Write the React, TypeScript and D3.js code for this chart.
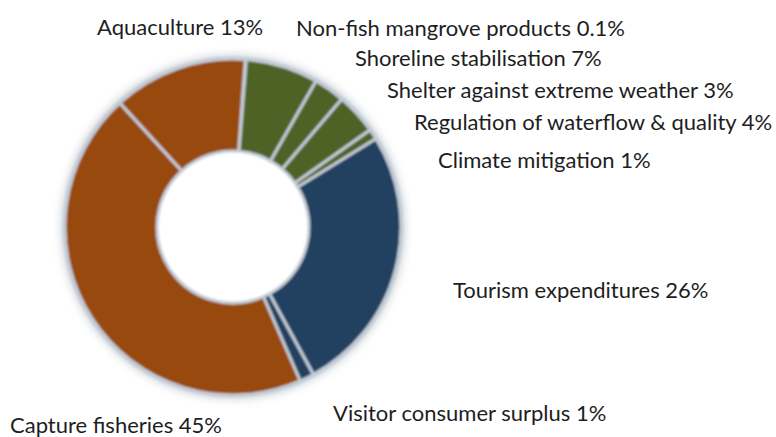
import React from "react";
import * as d3 from "d3";

const categories = [
  "Non-fish mangrove products",
  "Shoreline stabilisation",
  "Shelter against extreme weather",
  "Regulation of waterflow & quality",
  "Climate mitigation",
  "Tourism expenditures",
  "Visitor consumer surplus",
  "Capture fisheries",
  "Aquaculture",
];
const values = [0.1, 7, 3, 4, 1, 26, 1.4, 45, 13];
const valueLabels = ["0.1%", "7%", "3%", "4%", "1%", "26%", "1%", "45%", "13%"];
const colors = ["#4f6228", "#4f6228", "#4f6228", "#4f6228", "#4f6228", "#243f60", "#243f60", "#984807", "#984807"];

// label layout (left x, baseline y)
const labelX = [296, 355, 387, 414, 438, 453, 333, 10, 97];
const labelY = [36, 66, 98, 130, 168, 298, 421, 433, 35];

const W = 776;
const H = 437;
const cx = 233;
const cy = 227;
const outerR = 168;
const innerR = 76;
const startDeg = 4.2;

export default function App() {
  const pie = d3
    .pie<number>()
    .sort(null)
    .value((d) => d)
    .startAngle((startDeg * Math.PI) / 180)
    .endAngle(((startDeg + 360) * Math.PI) / 180);
  const arcs = pie(values);
  const arc = d3.arc<d3.PieArcDatum<number>>().innerRadius(innerR).outerRadius(outerR);
  const ring = d3.arc<any>().innerRadius(innerR).outerRadius(outerR).startAngle(0).endAngle(2 * Math.PI);

  return (
    <svg
      width={W}
      height={H}
      style={{ position: "fixed", left: 0, top: 0, background: "#ffffff" }}
      fontFamily="Lato, 'Open Sans', sans-serif"
    >
      <defs>
        <filter id="soft" x="-10%" y="-10%" width="120%" height="120%">
          <feGaussianBlur stdDeviation="0.9" />
        </filter>
        <filter id="shadow" x="-20%" y="-20%" width="140%" height="140%">
          <feGaussianBlur stdDeviation="4" />
        </filter>
      </defs>
      <rect width={W} height={H} fill="#ffffff" />
      <g transform={`translate(${cx},${cy})`}>
        <path d={ring({}) as string} fill="none" stroke="#b9bfc7" strokeWidth={8} opacity={0.7} filter="url(#shadow)" />
        <g filter="url(#soft)">
          <path d={ring({}) as string} fill="#c3ccd6" stroke="#c3ccd6" strokeWidth={5} />
          {arcs.map((a, i) => (
            <path key={i} d={arc(a) as string} fill={colors[i]} stroke="#c3ccd6" strokeWidth={3} />
          ))}
          <circle r={innerR - 1.5} fill="#ffffff" />
        </g>
      </g>
      <g fill="#1e1e1e" fontSize={22}>
        {categories.map((c, i) => (
          <text key={i} x={labelX[i]} y={labelY[i]}>
            {`${c} ${valueLabels[i]}`}
          </text>
        ))}
      </g>
    </svg>
  );
}
